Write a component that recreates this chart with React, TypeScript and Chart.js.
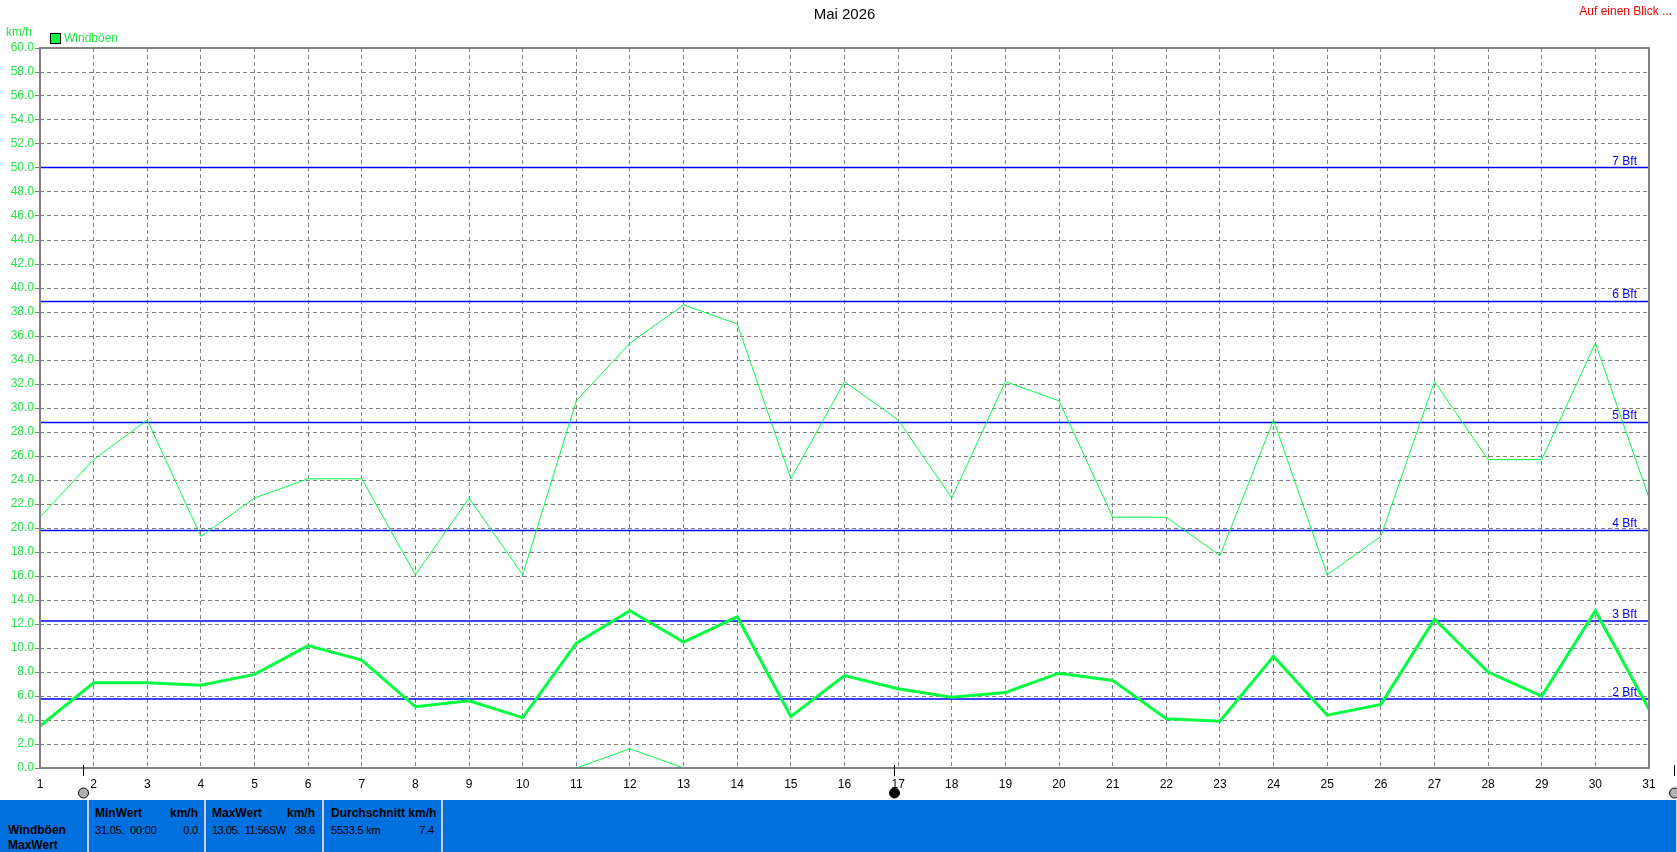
import React, { useEffect, useRef } from 'react';
import { Chart, registerables } from 'chart.js';

Chart.register(...registerables);

const days = [1, 2, 3, 4, 5, 6, 7, 8, 9, 10, 11, 12, 13, 14, 15, 16, 17, 18, 19, 20, 21, 22, 23, 24, 25, 26, 27, 28, 29, 30, 31];
const maxGusts = [20.9, 25.7, 29.0, 19.3, 22.5, 24.1, 24.1, 16.1, 22.5, 16.1, 30.6, 35.4, 38.6, 37.0, 24.1, 32.2, 29.0, 22.5, 32.2, 30.6, 20.9, 20.9, 17.7, 29.0, 16.1, 19.3, 32.2, 25.7, 25.7, 35.4, 22.5];
const avgGusts = [3.5, 7.1, 7.1, 6.9, 7.8, 10.2, 9.0, 5.1, 5.6, 4.2, 10.4, 13.1, 10.5, 12.6, 4.3, 7.7, 6.6, 5.9, 6.3, 7.9, 7.3, 4.1, 3.9, 9.3, 4.4, 5.3, 12.4, 8.0, 6.0, 13.1, 4.9];
const minGusts = [0, 0, 0, 0, 0, 0, 0, 0, 0, 0, 0, 1.6, 0, 0, 0, 0, 0, 0, 0, 0, 0, 0, 0, 0, 0, 0, 0, 0, 0, 0, 0];
const bftLevels = [5.76, 12.24, 19.8, 28.8, 38.88, 50.04];
const bftLabels = ['2 Bft', '3 Bft', '4 Bft', '5 Bft', '6 Bft', '7 Bft'];
const moonDays = [1.8, 16.93, 31.46];
const moonTypes = ['full', 'new', 'full'];
const titleText = 'Mai 2026';
const cornerText = 'Auf einen Blick ...';
const unitText = 'km/h';
const legendText = 'Windböen';

const FONT = '"Liberation Sans", Arial, sans-serif';
const GREEN = '#00ff40';
const LABEL_GREEN = '#1ee840';
const GRAY = '#808080';

const overlay = {
  id: 'overlay',
  afterDatasetsDraw(chart: any) {
    const { ctx, chartArea } = chart;
    ctx.save();
    ctx.strokeStyle = GRAY;
    ctx.lineWidth = 2;
    ctx.strokeRect(chartArea.left, chartArea.top, chartArea.right - chartArea.left, chartArea.bottom - chartArea.top);
    ctx.restore();
  },
  afterDraw(chart: any) {
    const { ctx, chartArea, scales } = chart;
    const xs = scales.x;
    const ys = scales.y;
    ctx.save();
    ctx.font = `12px ${FONT}`;
    ctx.fillStyle = '#0000ff';
    ctx.textAlign = 'right';
    ctx.textBaseline = 'alphabetic';
    bftLevels.forEach((lv, i) => {
      const y = ys.getPixelForValue(lv);
      ctx.fillText(bftLabels[i], chartArea.right - 12, y - 3);
    });
    ctx.fillStyle = '#000';
    ctx.font = `15px ${FONT}`;
    ctx.textAlign = 'center';
    ctx.textBaseline = 'middle';
    ctx.fillText(titleText, (chartArea.left + chartArea.right) / 2, 15);
    ctx.fillStyle = '#ff0000';
    ctx.font = `12px ${FONT}`;
    ctx.textAlign = 'right';
    ctx.fillText(cornerText, 1672, 12);
    ctx.fillStyle = LABEL_GREEN;
    ctx.textAlign = 'left';
    ctx.fillText(unitText, 6, 33);
    ctx.fillStyle = GREEN;
    ctx.fillRect(50.5, 33.5, 10, 10);
    ctx.strokeStyle = '#000';
    ctx.lineWidth = 1;
    ctx.strokeRect(50.5, 33.5, 10, 10);
    ctx.fillStyle = LABEL_GREEN;
    ctx.fillText(legendText, 64, 39);
    moonDays.forEach((d, i) => {
      const x = Math.round(xs.getPixelForValue(d)) + 0.5;
      ctx.strokeStyle = '#000';
      ctx.lineWidth = 1;
      ctx.beginPath();
      ctx.moveTo(x, chartArea.bottom - 3);
      ctx.lineTo(x, chartArea.bottom + 8);
      ctx.stroke();
      ctx.beginPath();
      ctx.arc(x, chartArea.bottom + 25, 5, 0, Math.PI * 2);
      ctx.fillStyle = moonTypes[i] === 'new' ? '#000' : '#b0b0b0';
      ctx.fill();
      ctx.stroke();
    });
    ctx.restore();
  },
};

export default function App() {
  const ref = useRef<HTMLCanvasElement>(null);
  useEffect(() => {
    document.body.style.margin = '0';
    const canvas = ref.current!;
    const pts = (arr: number[]) => days.map((d, i) => ({ x: d, y: arr[i] }));
    const bftSets = bftLevels.map((lv) => ({
      data: [{ x: days[0], y: lv }, { x: days[days.length - 1], y: lv }],
      borderColor: '#0000ff',
      borderWidth: 1.5,
      pointRadius: 0,
      fill: false,
    }));
    const chart = new Chart(canvas, {
      type: 'line',
      data: {
        datasets: [
          { data: pts(minGusts), borderColor: GREEN, borderWidth: 1, pointRadius: 0, tension: 0 },
          { data: pts(avgGusts), borderColor: GREEN, borderWidth: 3, pointRadius: 0, tension: 0 },
          { data: pts(maxGusts), borderColor: GREEN, borderWidth: 1, pointRadius: 0, tension: 0 },
          ...bftSets,
        ] as any,
      },
      options: {
        animation: false,
        responsive: false,
        devicePixelRatio: 1,
        layout: { padding: { left: 0, top: 48, right: 28, bottom: 0 } },
        plugins: { legend: { display: false }, title: { display: false }, tooltip: { enabled: false } },
        scales: {
          x: {
            type: 'linear',
            min: 1,
            max: 31,
            ticks: { stepSize: 1, color: '#000', font: { family: FONT, size: 12 }, padding: 9, autoSkip: false, maxRotation: 0 },
            grid: { color: GRAY, drawTicks: false, lineWidth: 1 },
            border: { display: false, dash: [4, 3] },
            afterFit: (s: any) => { s.height = 32; },
          },
          y: {
            min: 0,
            max: 60,
            ticks: { stepSize: 2, color: LABEL_GREEN, font: { family: FONT, size: 12 }, padding: 1, callback: (v: any) => Number(v).toFixed(1) },
            grid: { color: GRAY, tickLength: 5, tickColor: GRAY, tickBorderDash: [], lineWidth: 1 },
            border: { display: false, dash: [4, 3] },
            afterFit: (s: any) => { s.width = 40; },
          },
        },
      } as any,
      plugins: [overlay],
    });
    return () => chart.destroy();
  }, []);

  const cell: React.CSSProperties = { position: 'absolute', top: 0, height: 52, background: '#0070df' };
  const txt: React.CSSProperties = { position: 'absolute', whiteSpace: 'pre', fontFamily: FONT, fontSize: 12, color: '#000', lineHeight: '14px' };
  const val: React.CSSProperties = { ...txt, fontSize: 11, letterSpacing: '-0.2px' };
  const b: React.CSSProperties = { ...txt, fontWeight: 'bold' };
  return (
    <div style={{ position: 'absolute', left: 0, top: 0, width: 1677, height: 852, background: '#fff', overflow: 'hidden' }}>
      <canvas ref={ref} width={1677} height={800} style={{ position: 'absolute', left: 0, top: 0, width: 1677, height: 800 }} />
      <div style={{ position: 'absolute', left: 0, top: 800, width: 1677, height: 52, background: '#c8d0d8' }}>
        <div style={{ ...cell, left: 0, width: 87 }}>
          <span style={{ ...b, left: 8, top: 23 }}>Windböen</span>
          <span style={{ ...b, left: 8, top: 38 }}>MaxWert</span>
        </div>
        <div style={{ ...cell, left: 89, width: 115 }}>
          <span style={{ ...b, left: 6, top: 6 }}>MinWert</span>
          <span style={{ ...b, right: 6, top: 6 }}>km/h</span>
          <span style={{ ...val, left: 6, top: 23 }}>31.05.  00:00</span>
          <span style={{ ...val, right: 6, top: 23 }}>0.0</span>
        </div>
        <div style={{ ...cell, left: 206, width: 116 }}>
          <span style={{ ...b, left: 6, top: 6 }}>MaxWert</span>
          <span style={{ ...b, right: 7, top: 6 }}>km/h</span>
          <span style={{ ...val, left: 6, top: 23, letterSpacing: '-0.5px' }}>13.05.  11:56SW</span>
          <span style={{ ...val, right: 7, top: 23 }}>38.6</span>
        </div>
        <div style={{ ...cell, left: 324, width: 117 }}>
          <span style={{ ...b, left: 7, top: 6 }}>Durchschnitt km/h</span>
          <span style={{ ...val, left: 7, top: 23 }}>5533.5 km</span>
          <span style={{ ...val, right: 7, top: 23 }}>7.4</span>
        </div>
        <div style={{ ...cell, left: 443, width: 1233 }} />
      </div>
    </div>
  );
}
